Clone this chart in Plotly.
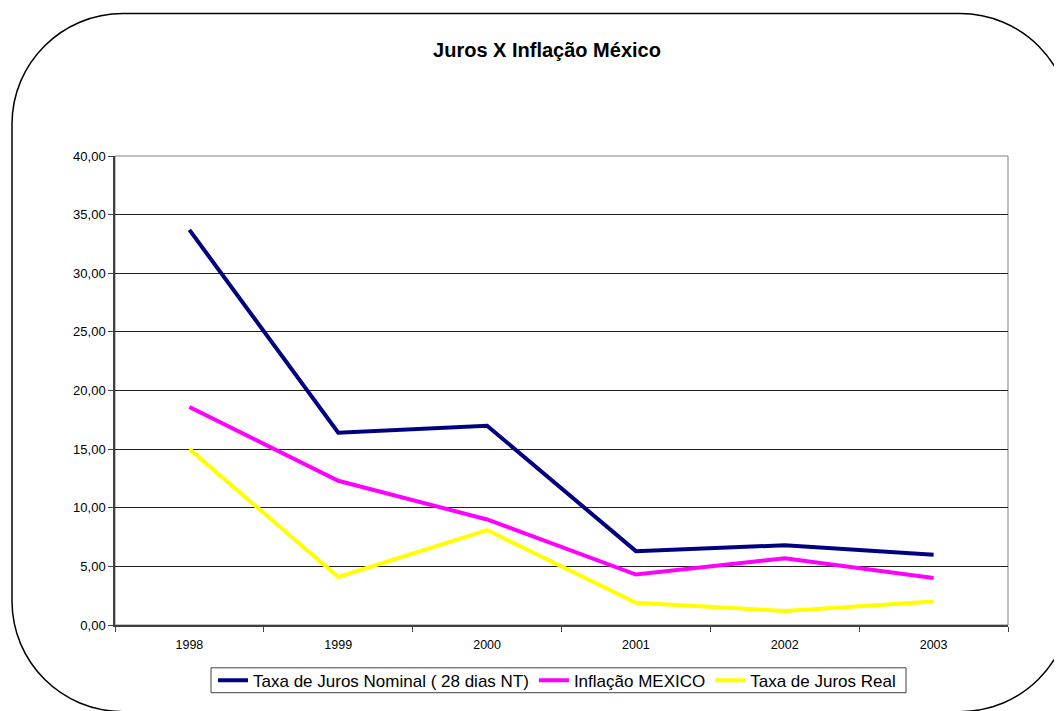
import plotly.graph_objects as go

years = ["1998", "1999", "2000", "2001", "2002", "2003"]
nominal = [33.7, 16.4, 17.0, 6.3, 6.8, 6.0]
inflacao = [18.6, 12.3, 9.0, 4.3, 5.7, 4.0]
real = [15.0, 4.1, 8.1, 1.9, 1.2, 2.0]
y_ticks = [0, 5, 10, 15, 20, 25, 30, 35, 40]

OFF = 8  # page body margin
W, H = 1062 - OFF, 711 - OFF
L, R, T, B = 115 - OFF, 1008 - OFF, 156 - OFF, 627 - OFF


def px(x):
    return (x - OFF - L) / (R - L)


def py(y):
    return (B - (y - OFF)) / (B - T)


def rounded_box(x0, y0, x1, y1, r):
    k = 0.5523 * r
    pts = []
    pts.append(f"M {px(x0 + r)},{py(y0)}")
    pts.append(f"L {px(x1 - r)},{py(y0)}")
    pts.append(f"C {px(x1 - r + k)},{py(y0)} {px(x1)},{py(y0 + r - k)} {px(x1)},{py(y0 + r)}")
    pts.append(f"L {px(x1)},{py(y1 - r)}")
    pts.append(f"C {px(x1)},{py(y1 - r + k)} {px(x1 - r + k)},{py(y1)} {px(x1 - r)},{py(y1)}")
    pts.append(f"L {px(x0 + r)},{py(y1)}")
    pts.append(f"C {px(x0 + r - k)},{py(y1)} {px(x0)},{py(y1 - r + k)} {px(x0)},{py(y1 - r)}")
    pts.append(f"L {px(x0)},{py(y0 + r)}")
    pts.append(f"C {px(x0)},{py(y0 + r - k)} {px(x0 + r - k)},{py(y0)} {px(x0 + r)},{py(y0)}")
    pts.append("Z")
    return " ".join(pts)


fig = go.Figure()
fig.add_trace(go.Scatter(x=years, y=nominal, mode="lines", name="Taxa de Juros Nominal ( 28 dias NT)",
                         line=dict(color="#000080", width=4)))
fig.add_trace(go.Scatter(x=years, y=inflacao, mode="lines", name="Inflação MEXICO",
                         line=dict(color="#FF00FF", width=4)))
fig.add_trace(go.Scatter(x=years, y=real, mode="lines", name="Taxa de Juros Real",
                         line=dict(color="#FFFF00", width=4)))

fig.update_layout(
    width=W, height=H,
    margin=dict(l=L, r=W - R, t=T, b=H - B),
    paper_bgcolor="white", plot_bgcolor="white",
    separators=",.",
    font=dict(family="Liberation Sans, Arial, sans-serif", color="black", size=12),
    title=dict(text="<b>Juros X Inflação México</b>", x=px(547), xref="paper", xanchor="center",
               y=1 - (50 - OFF) / H, yanchor="middle", font=dict(size=20, color="black")),
    showlegend=True,
    legend=dict(orientation="h", x=px(557), xanchor="center", y=py(683), yanchor="middle",
                borderwidth=0, bgcolor="rgba(0,0,0,0)",
                font=dict(size=17, family="Liberation Sans, Arial, sans-serif"),
                itemwidth=30, tracegroupgap=0),
    xaxis=dict(type="category", range=[-0.5, 5.5], showgrid=False,
               ticks="outside", tickson="boundaries", ticklen=5, tickcolor="#404040",
               showline=True, linecolor="#404040", linewidth=1.5, zeroline=False,
               ticklabelstandoff=7,
               tickfont=dict(size=12.5)),
    yaxis=dict(range=[0, 40], tickvals=y_ticks, tickformat=".2f",
               showgrid=True, gridcolor="#202020", gridwidth=1,
               ticks="outside", ticklen=5, tickcolor="#404040",
               showline=True, linecolor="#404040", linewidth=1.5, zeroline=False,
               tickfont=dict(size=13)),
    shapes=[
        dict(type="rect", xref="paper", yref="paper", x0=0, y0=0, x1=1, y1=1,
             line=dict(color="#808080", width=1), layer="below"),
        dict(type="path", xref="paper", yref="paper", path=rounded_box(12, 13, 1071, 714, 111),
             line=dict(color="black", width=1.5), layer="below"),
        dict(type="rect", xref="paper", yref="paper", x0=px(211), x1=px(906), y0=py(695), y1=py(670),
             line=dict(color="#404040", width=1), fillcolor="white", layer="below"),
    ],
)

fig.write_html("out.html")
